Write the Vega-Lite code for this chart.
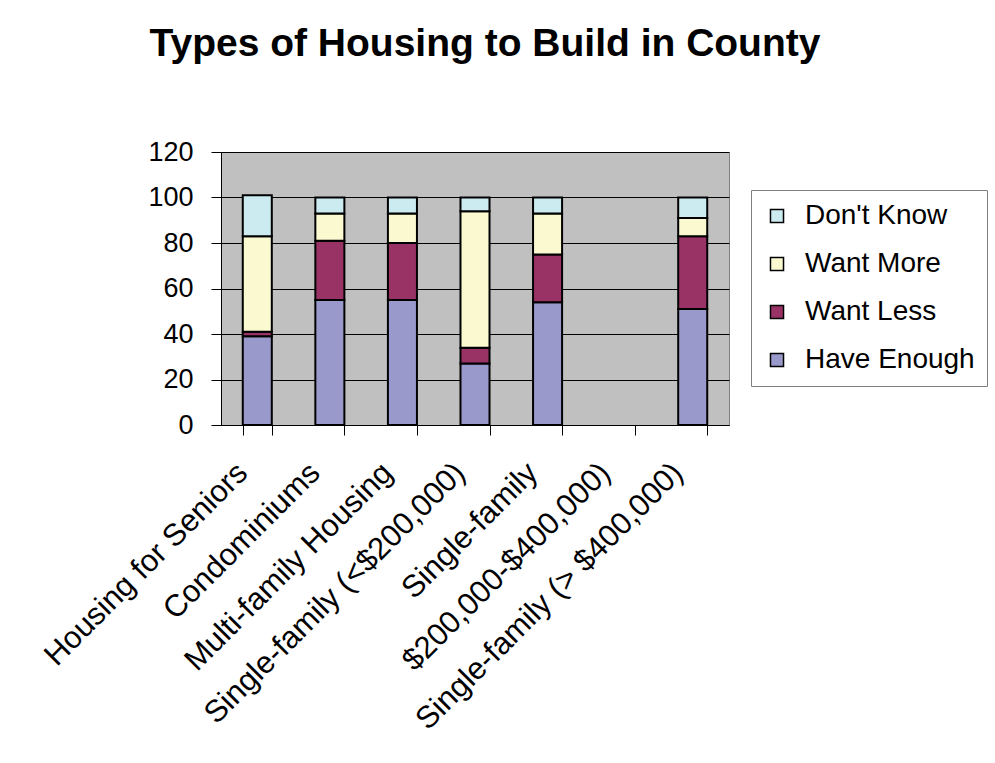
{
  "$schema": "https://vega.github.io/schema/vega-lite/v6.json",
  "autosize": {"type": "none"},
  "padding": {"left": 221, "top": 152, "right": 266, "bottom": 338},
  "width": 508,
  "height": 273,
  "background": "white",
  "title": {
    "text": "Types of Housing to Build in County",
    "font": "Liberation Sans",
    "fontSize": 39,
    "fontWeight": "bold",
    "color": "black",
    "anchor": "middle",
    "baseline": "alphabetic",
    "offset": 43,
    "dx": 10
  },
  "datasets": {
    "stackOrder": [
      {"response": "Have Enough", "rank": 1},
      {"response": "Want Less", "rank": 2},
      {"response": "Want More", "rank": 3},
      {"response": "Don't Know", "rank": 4}
    ]
  },
  "data": {
    "values": [
      {"category": "Housing for Seniors", "response": "Have Enough", "value": 39},
      {"category": "Housing for Seniors", "response": "Want Less", "value": 2},
      {"category": "Housing for Seniors", "response": "Want More", "value": 42},
      {"category": "Housing for Seniors", "response": "Don't Know", "value": 18},
      {"category": "Condominiums", "response": "Have Enough", "value": 55},
      {"category": "Condominiums", "response": "Want Less", "value": 26},
      {"category": "Condominiums", "response": "Want More", "value": 12},
      {"category": "Condominiums", "response": "Don't Know", "value": 7},
      {"category": "Multi-family Housing", "response": "Have Enough", "value": 55},
      {"category": "Multi-family Housing", "response": "Want Less", "value": 25},
      {"category": "Multi-family Housing", "response": "Want More", "value": 13},
      {"category": "Multi-family Housing", "response": "Don't Know", "value": 7},
      {"category": "Single-family (<$200,000)", "response": "Have Enough", "value": 27},
      {"category": "Single-family (<$200,000)", "response": "Want Less", "value": 7},
      {"category": "Single-family (<$200,000)", "response": "Want More", "value": 60},
      {"category": "Single-family (<$200,000)", "response": "Don't Know", "value": 6},
      {"category": "Single-family", "response": "Have Enough", "value": 54},
      {"category": "Single-family", "response": "Want Less", "value": 21},
      {"category": "Single-family", "response": "Want More", "value": 18},
      {"category": "Single-family", "response": "Don't Know", "value": 7},
      {"category": "Single-family (> $400,000)", "response": "Have Enough", "value": 51},
      {"category": "Single-family (> $400,000)", "response": "Want Less", "value": 32},
      {"category": "Single-family (> $400,000)", "response": "Want More", "value": 8},
      {"category": "Single-family (> $400,000)", "response": "Don't Know", "value": 9}
    ]
  },
  "transform": [
    {"lookup": "response", "from": {"data": {"name": "stackOrder"}, "key": "response", "fields": ["rank"]}}
  ],
  "mark": {"type": "bar", "stroke": "black", "strokeWidth": 2},
  "encoding": {
    "x": {
      "field": "category",
      "type": "nominal",
      "sort": null,
      "scale": {
        "domain": ["Housing for Seniors", "Condominiums", "Multi-family Housing", "Single-family (<$200,000)", "Single-family", "$200,000-$400,000)", "Single-family (> $400,000)"],
        "paddingInner": 0.6,
        "paddingOuter": 0.3
      },
      "axis": {
        "title": null,
        "labelAngle": -45,
        "labelAlign": "right",
        "labelBaseline": "middle",
        "labelFont": "Liberation Sans",
        "labelFontSize": 31,
        "labelColor": "black",
        "labelPadding": 33,
        "labelOffset": -15,
        "labelLimit": 0,
        "labelOverlap": false,
        "tickBand": "extent",
        "tickSize": 10,
        "tickColor": "black",
        "domainColor": "black",
        "domainWidth": 1,
        "grid": false
      }
    },
    "y": {
      "field": "value",
      "type": "quantitative",
      "aggregate": "sum",
      "stack": "zero",
      "scale": {"domain": [0, 120], "nice": false},
      "axis": {
        "title": null,
        "values": [0, 20, 40, 60, 80, 100, 120],
        "labelFont": "Liberation Sans",
        "labelFontSize": 27,
        "labelColor": "black",
        "labelPadding": 18,
        "tickSize": 10,
        "tickColor": "black",
        "domainColor": "black",
        "grid": true,
        "gridColor": "black",
        "gridWidth": 1,
        "gridOpacity": 1
      }
    },
    "order": {"field": "rank", "type": "quantitative", "sort": "ascending"},
    "color": {
      "field": "response",
      "type": "nominal",
      "scale": {
        "domain": ["Don't Know", "Want More", "Want Less", "Have Enough"],
        "range": ["#CCEBF0", "#FBF9D0", "#993366", "#9999CC"]
      },
      "legend": {
        "title": null,
        "orient": "none",
        "legendX": 530,
        "legendY": 38,
        "symbolType": "square",
        "symbolSize": 170,
        "symbolStrokeColor": "black",
        "symbolStrokeWidth": 1.5,
        "symbolOpacity": 1,
        "labelFont": "Liberation Sans",
        "labelFontSize": 28,
        "labelColor": "black",
        "labelOffset": 14,
        "labelLimit": 0,
        "rowPadding": 20,
        "padding": 12,
        "strokeColor": "#808080",
        "fillColor": "white"
      }
    }
  },
  "config": {
    "view": {"fill": "#C0C0C0", "stroke": "#808080", "strokeWidth": 1},
    "font": "Liberation Sans"
  }
}
